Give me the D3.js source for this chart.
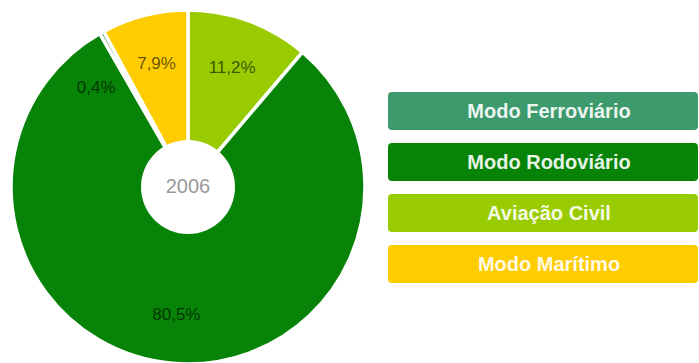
<!DOCTYPE html>
<html>
<head>
<meta charset="utf-8">
<script src="https://cdn.jsdelivr.net/npm/d3@7"></script>
<style>
  body { margin: 0; background: #fff; }
  svg { display: block; }
</style>
</head>
<body>
<div class="content"></div>
<script>
// data, clockwise from 12 o'clock
const modes = ["Aviação Civil", "Modo Rodoviário", "Modo Ferroviário", "Modo Marítimo"];
const shares = [11.2, 80.5, 0.4, 7.9];
const colors = ["#99cc00", "#078407", "#3d9a6c", "#ffcc00"];
const legendOrder = ["Modo Ferroviário", "Modo Rodoviário", "Aviação Civil", "Modo Marítimo"];
const year = "2006";

const width = 699, height = 363;
const cx = 188, cy = 187;
const outerR = 177, innerR = 47;

const svg = d3.select('.content')
    .append('svg')
    .attr('width', width)
    .attr('height', height);

const color = d3.scaleOrdinal().domain(modes).range(colors);

const slices = modes.map((m, i) => ({ mode: m, value: shares[i] }));

const pie = d3.pie()
    .sort(null)
    .value(d => d.value);

const arc = d3.arc()
    .innerRadius(0)
    .outerRadius(outerR);

const labelArc = d3.arc()
    .innerRadius(128)
    .outerRadius(128);

const arcs = pie(slices);

const g = svg.append("g")
    .attr("transform", `translate(${cx},${cy})`);

g.selectAll(".slice")
    .data(arcs)
    .enter().append("path")
    .attr("class", "slice")
    .attr("d", arc)
    .attr("fill", d => color(d.data.mode))
    .attr("stroke", "#fff")
    .attr("stroke-width", 3.5)
    .attr("stroke-linejoin", "round");

// hole in the middle
g.append("circle")
    .attr("r", innerR)
    .attr("fill", "#fff");

g.append("text")
    .attr("text-anchor", "middle")
    .attr("dy", "0.3em")
    .attr("font-family", "Liberation Sans, Arial, sans-serif")
    .attr("font-size", 20)
    .attr("fill", "#999")
    .text(year);

// labels, tiny slices nudged away from their neighbour
g.selectAll(".pctLabel")
    .data(arcs)
    .enter().append("text")
    .attr("class", "pctLabel")
    .attr("transform", d => {
        let c;
        if (d.data.value < 1) {
            const a = d.startAngle - 0.22;
            c = [Math.sin(a) * 136, -Math.cos(a) * 136];
        } else {
            c = labelArc.centroid(d);
        }
        return `translate(${c[0]},${c[1]})`;
    })
    .attr("text-anchor", "middle")
    .attr("dy", "0.35em")
    .attr("font-family", "Liberation Sans, Arial, sans-serif")
    .attr("font-size", 17)
    .attr("fill", "#000")
    .attr("fill-opacity", 0.62)
    .text(d => d3.format(".1f")(d.data.value).replace(".", ",") + "%");

// legend buttons
const legendY = d3.scaleBand()
    .domain(legendOrder)
    .range([92, 283])
    .paddingInner(0.255)
    .paddingOuter(0);

const legend = svg.selectAll(".legendItem")
    .data(legendOrder)
    .enter().append("g")
    .attr("class", "legendItem")
    .attr("transform", d => `translate(388, ${legendY(d)})`);

legend.append("rect")
    .attr("width", 310)
    .attr("height", legendY.bandwidth())
    .attr("rx", 4)
    .attr("fill", d => color(d));

legend.append("text")
    .attr("x", 161)
    .attr("y", legendY.bandwidth() / 2)
    .attr("dy", "0.36em")
    .attr("text-anchor", "middle")
    .attr("font-family", "Liberation Sans, Arial, sans-serif")
    .attr("font-weight", "bold")
    .attr("font-size", 20)
    .attr("fill", "#fff")
    .attr("fill-opacity", 0.92)
    .text(d => d);
</script>
</body>
</html>
